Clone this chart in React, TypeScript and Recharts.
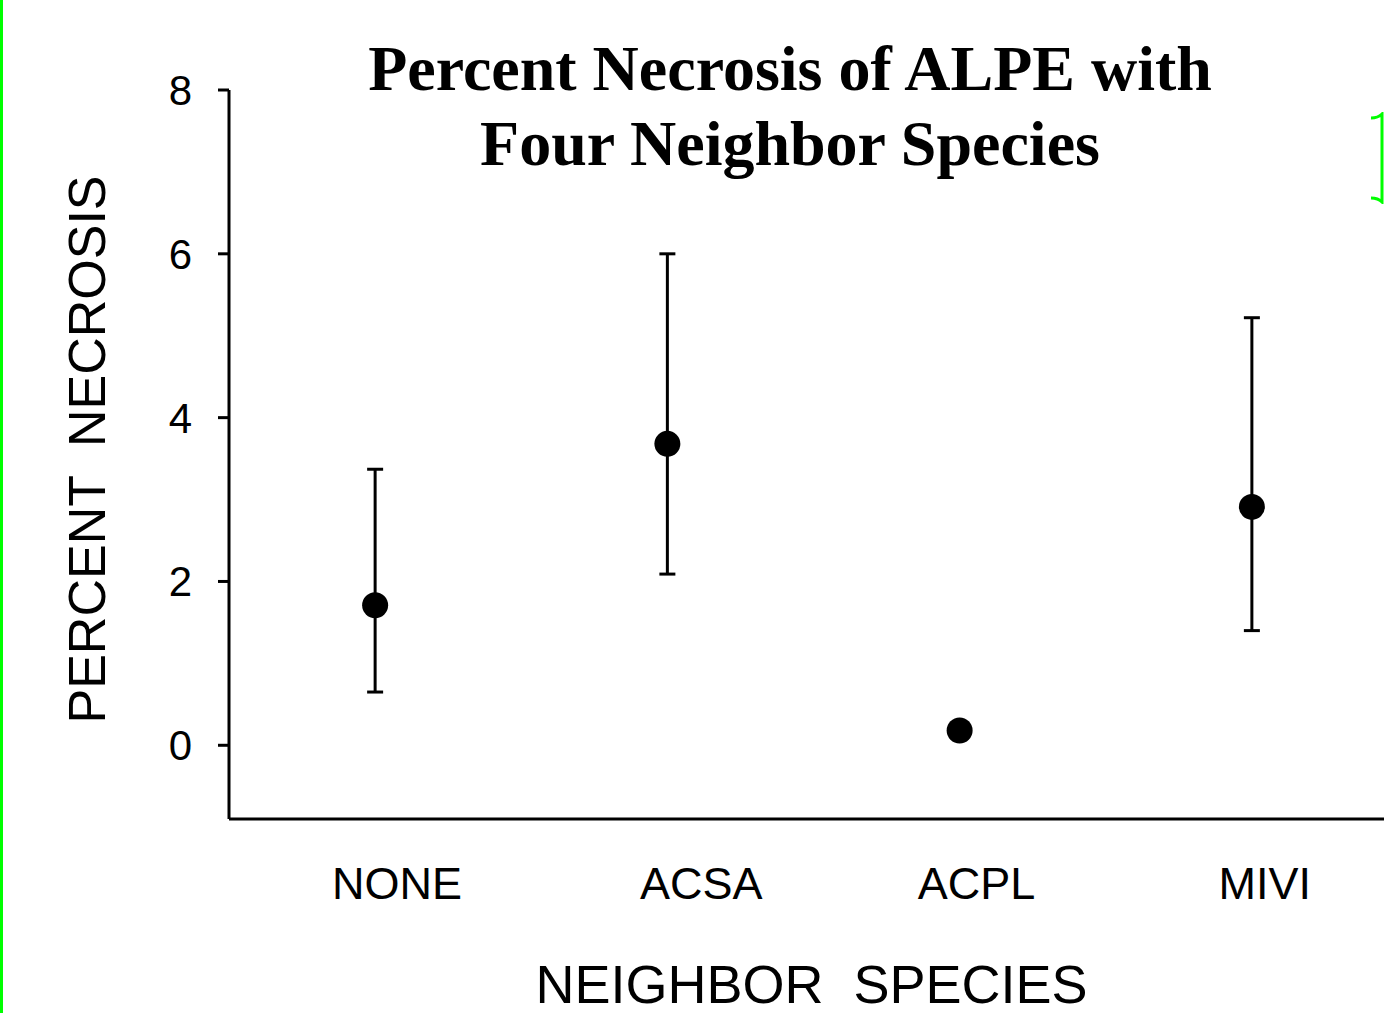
import { ScatterChart, Scatter, XAxis, YAxis, ErrorBar, Label } from 'recharts';

const species = ['NONE', 'ACSA', 'ACPL', 'MIVI'];
const meanNecrosis = [1.71, 3.68, 0.18, 2.91];
const upperBound = [3.37, 6.0, 0.18, 5.22];
const lowerBound = [0.65, 2.09, 0.18, 1.4];
const yTicks = [0, 2, 4, 6, 8];

// small nudges so the category names sit where the original put them
const labelShift = [22, 34, 17, 13];

const data = species.map((name, i) => ({
  x: i + 1,
  name,
  y: meanNecrosis[i],
  err: [meanNecrosis[i] - lowerBound[i], upperBound[i] - meanNecrosis[i]],
}));

const sansFont = '"Liberation Sans", Arial, sans-serif';

const SpeciesTick = ({ x, y, index }: any) => (
  <text
    x={x + (labelShift[index] ?? 0)}
    y={y + 72}
    textAnchor="middle"
    fill="#000"
    style={{ fontSize: 45, fontFamily: sansFont }}
  >
    {species[index]}
  </text>
);

const Dot = ({ cx, cy }: any) => <circle cx={cx} cy={cy} r={13} fill="#000" />;

export default function App() {
  return (
    <div
      style={{
        position: 'absolute',
        left: 0,
        top: 0,
        width: 1384,
        height: 1013,
        overflow: 'hidden',
        background: '#fff',
      }}
    >
      <div style={{ position: 'absolute', left: 0, top: 0, width: 3, height: 1013, background: '#00ff00' }} />
      <svg style={{ position: 'absolute', left: 1366, top: 112 }} width={18} height={92}>
        <path d="M5 6 Q12 6 16 2 L16 90 Q12 86 5 86" fill="none" stroke="#00ff00" strokeWidth={3} />
      </svg>
      <div
        style={{
          position: 'absolute',
          left: 0,
          top: 31,
          width: 1580,
          textAlign: 'center',
          fontFamily: '"Liberation Serif", "Times New Roman", serif',
          fontWeight: 'bold',
          fontSize: 64,
          lineHeight: '75px',
          color: '#000',
        }}
      >
        Percent Necrosis of ALPE with
        <br />
        Four Neighbor Species
      </div>
      <ScatterChart width={1398} height={1013} margin={{ top: 90, right: 0, bottom: 0, left: 0 }}>
        <XAxis
          type="number"
          dataKey="x"
          domain={[0.5, 4.5]}
          ticks={[1, 2, 3, 4]}
          tickLine={false}
          axisLine={{ stroke: '#000', strokeWidth: 3 }}
          height={194}
          tick={<SpeciesTick />}
          interval={0}
        >
          <Label
            content={({ viewBox }: any) => (
              <text
                x={viewBox.x + viewBox.width / 2 - 2}
                y={viewBox.y + 184}
                textAnchor="middle"
                fill="#000"
                style={{ fontSize: 54, fontFamily: sansFont, whiteSpace: 'pre' }}
              >
                {'NEIGHBOR  SPECIES'}
              </text>
            )}
          />
        </XAxis>
        <YAxis
          type="number"
          dataKey="y"
          domain={[-0.9, 8]}
          ticks={yTicks}
          width={229}
          tickSize={11}
          tickMargin={26}
          tickLine={{ stroke: '#000', strokeWidth: 3 }}
          axisLine={{ stroke: '#000', strokeWidth: 3 }}
          tick={{ fill: '#000', fontSize: 42, fontFamily: sansFont }}
        >
          <Label
            content={({ viewBox }: any) => {
              const cx = 105;
              const cy = viewBox.y + viewBox.height / 2 - 5;
              return (
                <text
                  x={cx}
                  y={cy}
                  transform={`rotate(-90, ${cx}, ${cy})`}
                  textAnchor="middle"
                  fill="#000"
                  style={{ fontSize: 52, fontFamily: sansFont, whiteSpace: 'pre' }}
                >
                  {'PERCENT  NECROSIS'}
                </text>
              );
            }}
          />
        </YAxis>
        <Scatter data={data} shape={<Dot />} isAnimationActive={false}>
          <ErrorBar dataKey="err" direction="y" width={8} strokeWidth={3} stroke="#000" />
        </Scatter>
      </ScatterChart>
    </div>
  );
}
